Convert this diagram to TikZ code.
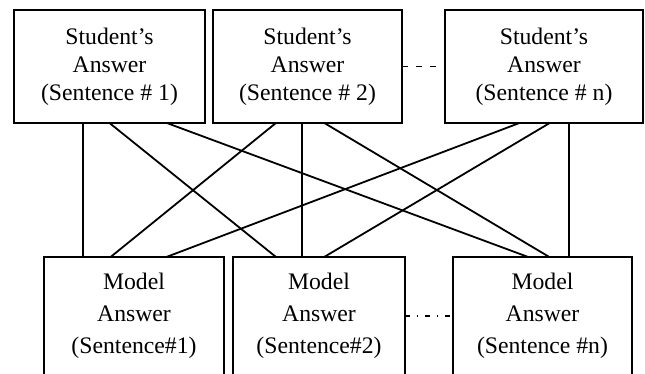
\documentclass[tikz,border=0pt]{standalone}
\usepackage{fontspec}
\setmainfont{Liberation Serif}
\usetikzlibrary{
	positioning,
	calc
}

\begin{document}
\begin{tikzpicture}[
	x=0.5pt, y=-0.5pt,
	node distance =0mm,
	answer/.style = {
		rectangle,
		draw,
		line width=1pt,
		outer sep=0pt,
		align=center,
		font=\fontsize{11.85}{14}\selectfont
	},
	student/.style = {
		answer,
		minimum height=56.5pt
	},
	model/.style = {
		answer,
		minimum height=59pt,
		font=\fontsize{11.85}{16}\selectfont
	},
	link/.style = {line width=0.9pt},
]
	\clip (0,0) rectangle (645,374);

	\node (s1) [student, minimum width=95.5pt, anchor=north west] at (14,10) {Student’s\\Answer\\(Sentence \# 1)};
	\node (s2) [student, minimum width=94.5pt, right=4pt of s1] {Student’s\\Answer\\(Sentence \# 2)};
	\node (s3) [student, minimum width=99pt, right=21.5pt of s2] {Student’s\\Answer\\(Sentence \# n)};

	\node (m1) [model, minimum width=90pt, below right=67pt and 15pt of s1.south west] {Model\\Answer\\(Sentence\#1)};
	\node (m2) [model, minimum width=86pt, right=4.5pt of m1] {Model\\Answer\\(Sentence\#2)};
	\node (m3) [model, minimum width=89.5pt, right=24pt of m2] {Model\\Answer\\(Sentence \#n)};

	\draw[link, dash pattern=on 3pt off 4pt] (s2) -- (s3);
	\draw[link, dash pattern=on 2.5pt off 3.5pt on 0.6pt off 3.5pt] (m2) -- (m3);

	\draw[link] ($(s1.south west)!.361!(s1.south east)$) coordinate (v1) -- (v1 |- m1.north);
	\draw[link] (s1.south) -- ($(m2.north west)!.25!(m2.north east)$);
	\draw[link] ($(s1.south west)!.8!(s1.south east)$) -- ($(m3.north west)!.42!(m3.north east)$);

	\draw[link] ($(s2.south west)!.333!(s2.south east)$) -- ($(m1.north west)!.37!(m1.north east)$);
	\draw[link] ($(s2.south west)!.471!(s2.south east)$) coordinate (v2) -- (v2 |- m2.north);
	\draw[link] ($(s2.south west)!.589!(s2.south east)$) -- ($(m3.north west)!.538!(m3.north east)$);

	\draw[link] ($(s3.south west)!.376!(s3.south east)$) -- ($(m1.north west)!.68!(m1.north east)$);
	\draw[link] ($(s3.south west)!.529!(s3.south east)$) -- ($(m2.north west)!.53!(m2.north east)$);
	\draw[link] ($(s3.south west)!.626!(s3.south east)$) coordinate (v3) -- (v3 |- m3.north);
\end{tikzpicture}
\end{document}
